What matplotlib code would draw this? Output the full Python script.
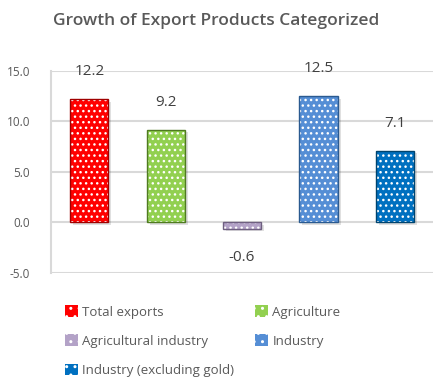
import numpy as np
import matplotlib
matplotlib.use("Agg")
from matplotlib import pyplot as plt
from matplotlib.patches import Patch

categories = ["Total exports", "Agriculture", "Agricultural industry",
              "Industry", "Industry (excluding gold)"]
values = [12.2, 9.2, -0.6, 12.5, 7.1]
colors = ["#FF0000", "#92D050", "#B3A2C7", "#558ED5", "#0070C0"]
edges = ["#A00000", "#4F7A21", "#6E5F80", "#2A5A90", "#00446F"]
yticks = [-5.0, 0.0, 5.0, 10.0, 15.0]

plt.rcParams['font.family'] = ['Open Sans', 'DejaVu Sans']
plt.rcParams['hatch.linewidth'] = 1.0

fig = plt.figure(figsize=(4.33, 3.8), dpi=100)
ax = fig.add_axes([0.118, 0.2816, 0.882, 0.5316])

x = np.arange(len(values))
# shadow
ax.bar(x + 0.04, values, width=0.5, color="#000000", alpha=0.12, zorder=2,
       bottom=-0.25)
ax.bar(x, values, width=0.5, color=colors, edgecolor="white", hatch="...",
       linewidth=0, zorder=3)
ax.bar(x, values, width=0.5, fill=False, edgecolor=edges, linewidth=1.0, zorder=4)

for xi, v in zip(x, values):
    if v >= 0:
        ax.text(xi, v + 2.7, "%.1f" % v, ha="center", va="center",
                fontsize=11, color="#404040", zorder=5)
    else:
        ax.text(xi, v - 2.9, "%.1f" % v, ha="center", va="center",
                fontsize=11, color="#404040", zorder=5)

ax.set_xlim(-0.5, 4.5)
ax.set_ylim(-5, 15)
ax.set_yticks(yticks)
ax.set_yticklabels(["%.1f" % t for t in yticks], fontsize=8.5, color="#595959")
ax.set_xticks([])
ax.tick_params(axis="y", length=0, pad=15)
ax.grid(axis="y", color="#D9D9D9", linewidth=1.5, zorder=0)
ax.set_axisbelow(True)
for s in ["top", "right", "bottom"]:
    ax.spines[s].set_visible(False)
ax.spines["left"].set_color("#D9D9D9")
ax.spines["left"].set_linewidth(1.5)

fig.text(0.5, 0.945, "Growth of Export Products Categorized", ha="center",
         va="center", fontsize=12.5, fontweight="semibold", color="#595959")

handles = [Patch(facecolor=c, edgecolor="white", hatch="..", linewidth=0)
           for c in colors]
order = [0, 2, 4, 1, 3]
leg = fig.legend([handles[i] for i in order], [categories[i] for i in order],
                 ncol=2, loc="upper left", bbox_to_anchor=(0.15, 0.197),
                 frameon=False, fontsize=9.5, handlelength=1.0, handleheight=1.0,
                 handletextpad=0.3, labelspacing=1.2, columnspacing=1.6,
                 borderaxespad=0, borderpad=0)
for t in leg.get_texts():
    t.set_color("#595959")

fig.savefig("out.png", dpi=100)
